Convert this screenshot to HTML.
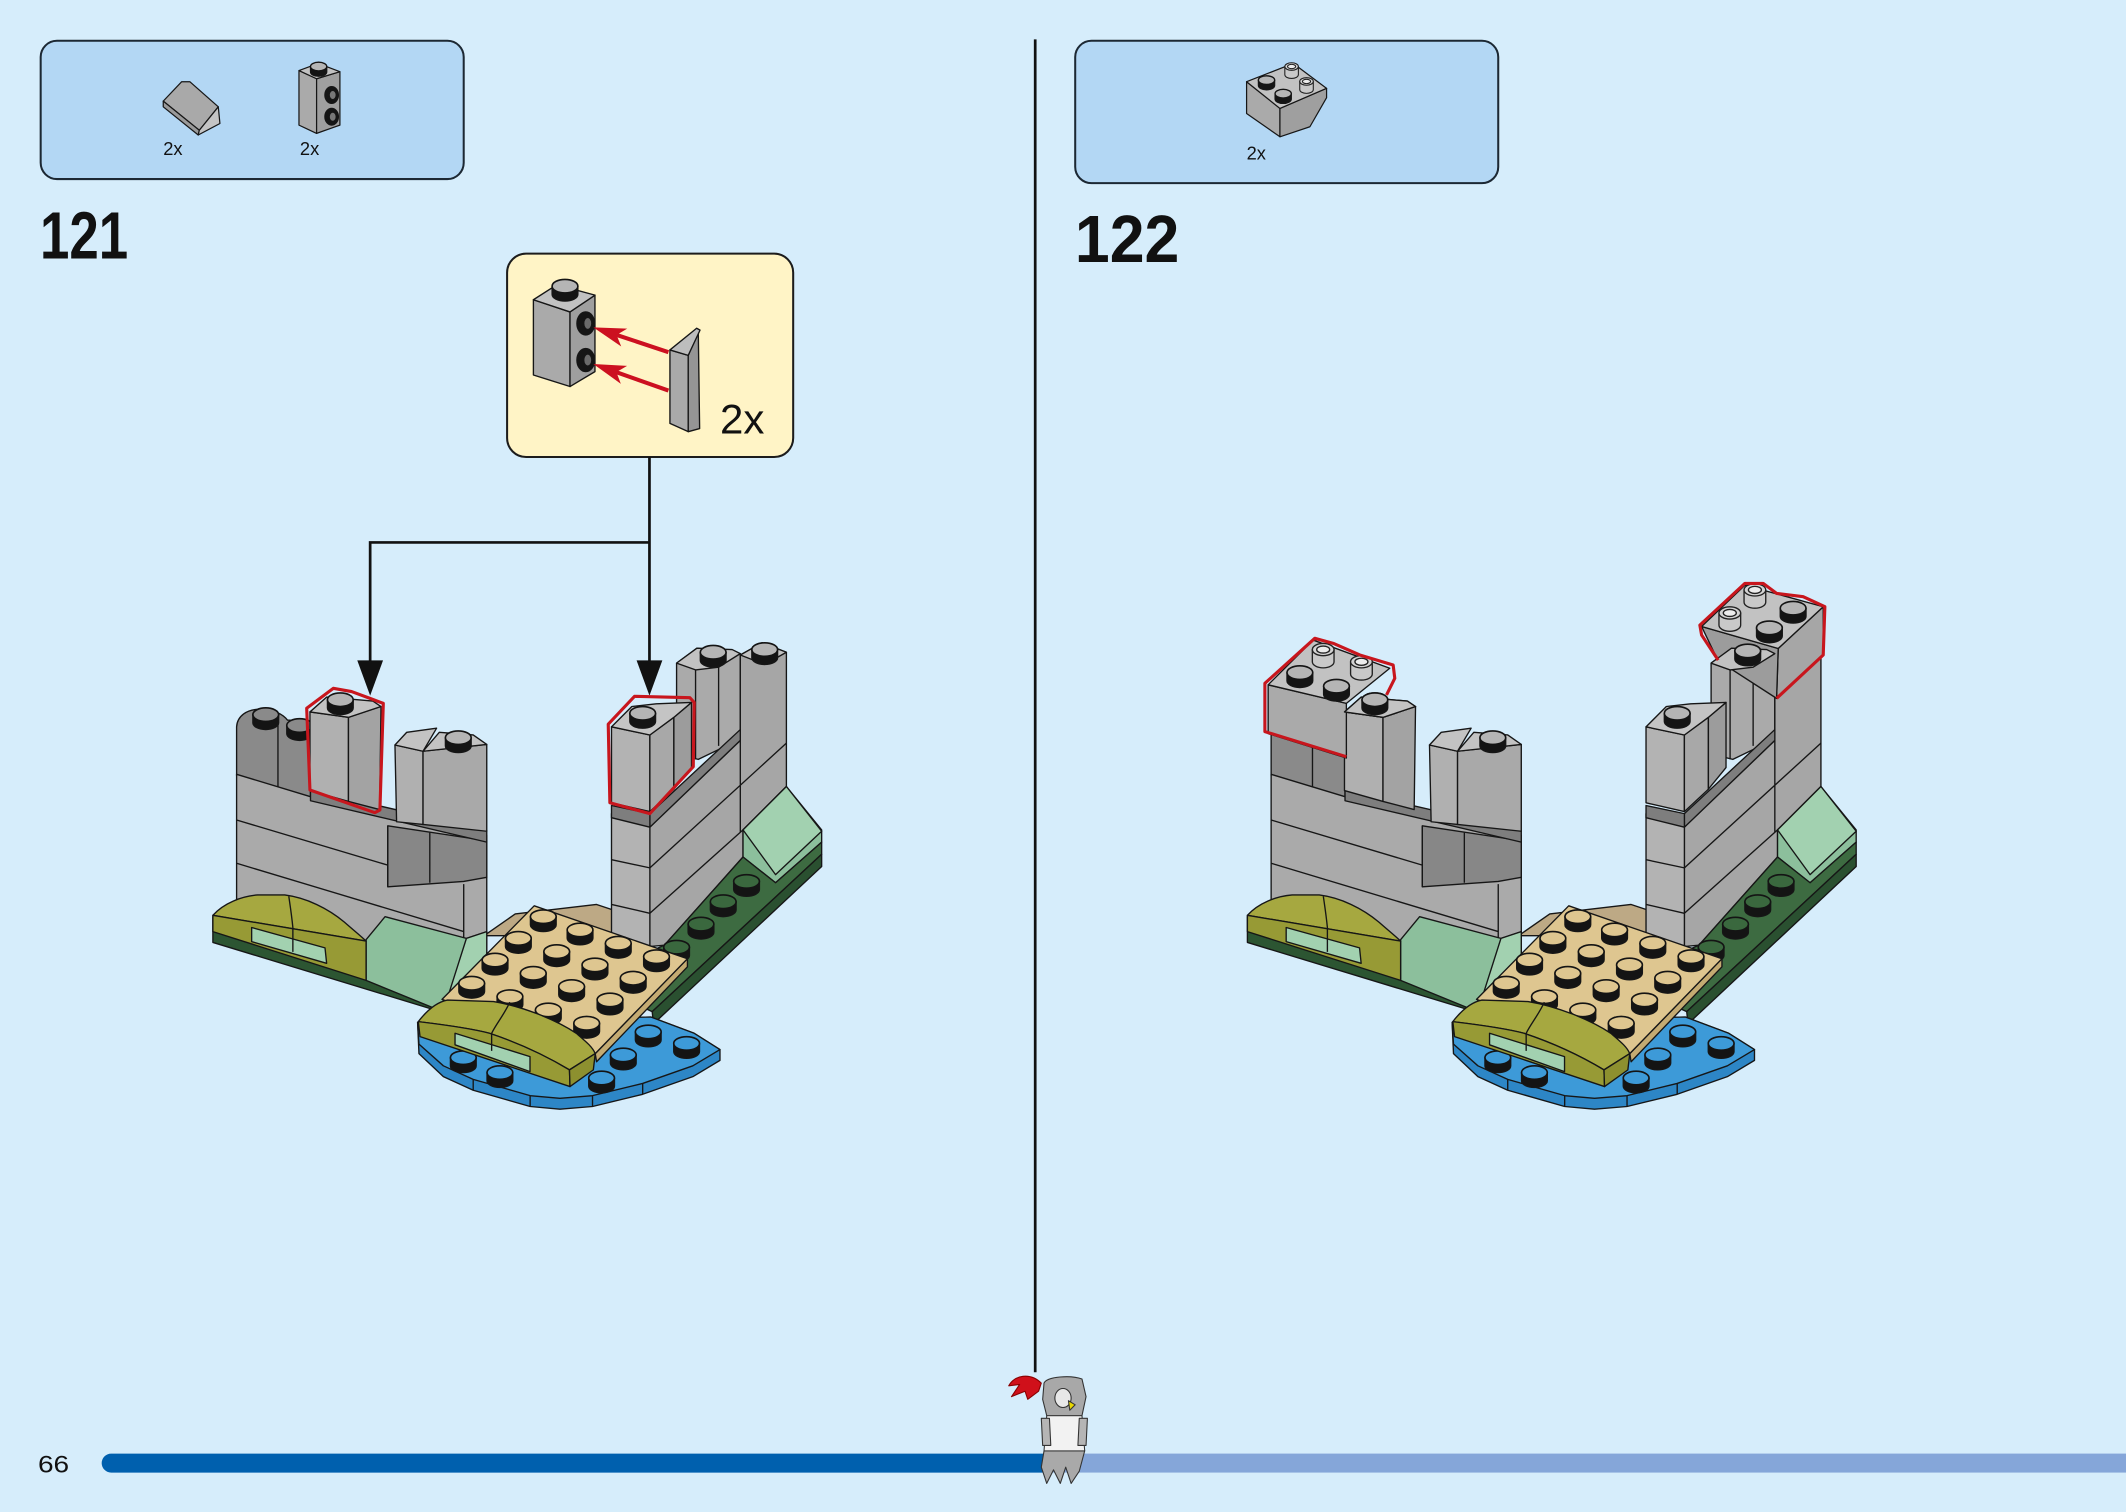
<!DOCTYPE html>
<html><head><meta charset="utf-8">
<style>
html,body{margin:0;padding:0;background:#d6edfb;}
svg{display:block;}
</style></head><body>
<svg width="2126" height="1512" viewBox="0 0 1568 1115" xmlns="http://www.w3.org/2000/svg" font-family="'Liberation Sans', sans-serif">
<defs>
 <g id="st"><path d="M-9.5,0 L-9.5,6 A9.5,5 0 0 0 9.5,6 L9.5,0 Z" fill="#141414"/><ellipse rx="9.5" ry="5" stroke="#141414" stroke-width="1.2"/></g>
 <g id="ss"><path d="M-6,0 L-6,4 A6,3.2 0 0 0 6,4 L6,0 Z" fill="#141414"/><ellipse rx="6" ry="3.2" stroke="#141414" stroke-width="1"/></g>
 <g id="hs"><path d="M-8,0 L-8,9 A8,4.5 0 0 0 8,9 L8,0 Z" fill="#c9c9c9" stroke="#222" stroke-width="1"/><ellipse rx="8" ry="4.5" fill="#d2d2d2" stroke="#222" stroke-width="1"/><ellipse rx="4.8" ry="2.6" fill="#ececec" stroke="#222" stroke-width="1"/></g>
 <g id="hss"><path d="M-5,0 L-5,6 A5,2.8 0 0 0 5,6 L5,0 Z" fill="#c9c9c9" stroke="#222" stroke-width="0.8"/><ellipse rx="5" ry="2.8" fill="#d2d2d2" stroke="#222" stroke-width="0.8"/><ellipse rx="3" ry="1.6" fill="#ececec" stroke="#222" stroke-width="0.8"/></g>

 <g id="mdl" stroke="#161616" stroke-width="1" stroke-linejoin="round">
  <path d="M357,690 L380,674 L440,667 L455,672 L455,690 Z" fill="#bda985"/>
  <!-- right tower -->
  <path d="M499,489 L514,478 L546,482 L546,545 L515,560 L499,556 Z" fill="#aaaaaa"/>
  <path d="M499,489 L514,478 L540,479 L546,482 L530,492 L513,494 Z" fill="#c2c2c2"/>
  <path d="M513,494 L513,560 M530,492 L530,550" fill="none"/>
  <use href="#st" x="526" y="481" fill="#b5b5b5"/>
  <path d="M479.3,610 L546,546 L546,483 L562,474 L580,481 L580,580 L548,612 L548,632 L490,697 L479.3,698 Z" fill="#a6a6a6"/>
  <path d="M546,483 L562,474 L580,481 L564,490 Z" fill="#c2c2c2"/>
  <use href="#st" x="564" y="479" fill="#b5b5b5"/>
  <path d="M479.3,640 L580,548 M479.3,673.5 L548,612 M546,546 L546,614" fill="none"/>
  <path d="M479.3,600 L546,538 L546,546 L479.3,610 Z" fill="#7e7e7e"/>
  <path d="M451,600 L479.3,606 L479.3,698 L451,697 Z" fill="#b3b3b3"/>
  <path d="M451,594 L479.3,600 L479.3,610 L451,603 Z" fill="#7e7e7e"/>
  <path d="M451,634 L479.3,640 M451,667 L479.3,673.5" fill="none"/>
  <path d="M451,536 L479.3,542 L479.3,598.5 L451,592 Z" fill="#b3b3b3"/>
  <path d="M479.3,542 L497,529 L497,582 L479.3,598.5 Z" fill="#a8a8a8"/>
  <path d="M497,529 L510,518 L510,566 L497,582 Z" fill="#9c9c9c"/>
  <path d="M451,536 L466,521 L484,519 L510,518 L497,529 L479.3,542 Z" fill="#c4c4c4"/>
  <use href="#st" x="474" y="526" fill="#b5b5b5"/>
  <!-- right sand green slope -->
  <path d="M548,612 L580,580 L606,612 L606,621 L572,651 L548,632 Z" fill="#8cbf9c"/>
  <path d="M548,612 L580,580 L606,613 L572,645 Z" fill="#a2d1b0"/>
  <!-- right dark green plate -->
  <path d="M470,706 L490,697 L548,632 L572,651 L606,621 L606,630 L481,746 L470,741 Z" fill="#3d6b41"/>
  <path d="M606,630 L606,639 L482,755 L481,746 Z" fill="#2a5030"/>
  <use href="#st" x="550.6" y="650" fill="#3a683e"/>
  <use href="#st" x="533.4" y="665" fill="#3a683e"/>
  <use href="#st" x="517" y="681.5" fill="#3a683e"/>
  <use href="#st" x="499" y="698.5" fill="#3a683e"/>
  <!-- left wall -->
  <path d="M174.5,536 C175,528 182,523 192,523 C202,523 209,527 212,531 C220,531 227,535 229,540 L229,589 L174.5,572 Z" fill="#8a8a8a"/>
  <path d="M205,533 L205,582" fill="none"/>
  <use href="#st" x="196" y="527" fill="#8a8a8a"/>
  <use href="#st" x="221" y="535" fill="#8a8a8a"/>
  <path d="M174.5,571 L229,587.5 L359,616 L359,697 L174.5,692 Z" fill="#aaaaaa"/>
  <path d="M286,609 L359,620 L359,647 L342,650 L286,654 Z" fill="#878787"/>
  <path d="M174.5,604.7 L286,638 M174.5,636.6 L342,687 M286,609 L286,654 M342,652 L342,697 M317,614 L317,651" fill="none"/>
  <path d="M229,582.6 L359,612.5 L359,621 L229,590.5 Z" fill="#7e7e7e"/>
  <path d="M228.6,525 L257,529 L257,591 L228.6,583 Z" fill="#b0b0b0"/>
  <path d="M257,529 L281,521 L280,597 L257,591 Z" fill="#a3a3a3"/>
  <path d="M228.6,525 L241,514 L275,517 L281,521 L257,529 Z" fill="#c3c3c3"/>
  <use href="#st" x="251" y="516" fill="#b5b5b5"/>
  <path d="M291.3,549.4 L312,554 L312,608 L292.5,606 Z" fill="#b0b0b0"/>
  <path d="M291.3,549.4 L300,540 L322,537 L312,554 Z" fill="#c3c3c3"/>
  <path d="M312,554 L359,549 L359,613 L312,608 Z" fill="#a9a9a9"/>
  <path d="M312,554 L324,540 L349,542 L359,549 Z" fill="#c3c3c3"/>
  <use href="#st" x="338" y="544" fill="#b5b5b5"/>
  <!-- left base -->
  <path d="M157,676 L330,724 L333,736 L318,744 L157,695 Z" fill="#2c5532"/>
  <path d="M270,693 L284,676 L344,692 L359,687 L359,706 L325,740 L319,743 L270,723 Z" fill="#8cbf9c"/>
  <path d="M344,692 L359,687 L359,706 L330,736 Z" fill="#a2d1b0"/>
  <path d="M157,675 C165,666 178,661 190,660 L210,660 C226,662 242,670 254,680 C262,687 267,691 270,694 Z" fill="#a6a840"/>
  <path d="M157,675 L270,694 L270,723 L157,687 Z" fill="#979a35"/>
  <path d="M185.6,684 L239.7,699 L240.9,710.4 L185.6,694.4 Z" fill="#a2d1b0"/>
  <path d="M213,661 C214,668 215,674 216,684 L216,702" fill="none"/>
  <!-- blue -->
  <path d="M308,754 L480,750 L512,762 L531,774 L531,782 L511,794 L474,807 L437,816 L413,818 L391,816 L349,804 L327,794 L309,777 Z" fill="#2d86c6"/>
  <path d="M308,754 L480,750 L512,762 L531,774 L511,786 L474,799 L437,808 L413,810 L391,808 L349,796 L327,786 L309,770 Z" fill="#3d9ad8"/>
  <path d="M349,796 L349,804 M437,808 L437,816 M474,799 L474,807 M391,808 L391,816" fill="none"/>
  <use href="#st" x="341.7" y="780" fill="#3d9ad8"/>
  <use href="#st" x="368.7" y="791" fill="#3d9ad8"/>
  <use href="#st" x="443.7" y="795" fill="#3d9ad8"/>
  <use href="#st" x="459.7" y="778" fill="#3d9ad8"/>
  <use href="#st" x="478.1" y="761" fill="#3d9ad8"/>
  <use href="#st" x="506.4" y="769.5" fill="#3d9ad8"/>
  <!-- tan plate -->
  <path d="M507,707 L507,713 L440,783 L439,777 Z" fill="#c4ab72"/>
  <path d="M394,668 L507,707 L439,777 L326,737 Z" fill="#dec690"/>
  <g fill="#dec690">
   <use href="#st" x="400.7" y="676"/><use href="#st" x="427.8" y="685.8"/><use href="#st" x="456" y="695.6"/><use href="#st" x="484.2" y="705.5"/>
   <use href="#st" x="382.3" y="692"/><use href="#st" x="410.6" y="701.8"/><use href="#st" x="438.8" y="711.6"/><use href="#st" x="467" y="721.4"/>
   <use href="#st" x="365.1" y="708"/><use href="#st" x="393.3" y="717.8"/><use href="#st" x="421.6" y="727.6"/><use href="#st" x="449.9" y="737.4"/>
   <use href="#st" x="347.9" y="725.1"/><use href="#st" x="376.1" y="735"/><use href="#st" x="404.4" y="744.8"/><use href="#st" x="432.7" y="754.6"/>
  </g>
  <!-- olive front -->
  <path d="M308.5,753.4 C315,745 322,739 330,737.5 L364,738.6 C385,742 410,752 425,762 C432,768 437,772 439,777 L420,789 C405,780 385,770 361,762 C350,759 330,756 308.5,753.4 Z" fill="#a6a840"/>
  <path d="M308.5,753.4 C330,756 350,759 361,762 C385,770 405,780 420,789 L420.4,801.3 L309.8,764.5 Z" fill="#979a35"/>
  <path d="M420,789 L439,777 L437.6,789 L420.4,801.3 Z" fill="#8d902f"/>
  <path d="M335.6,762 L390.9,779.2 L390.9,790.3 L335.6,770.5 Z" fill="#a2d1b0"/>
  <path d="M376,739 C372,748 366,755 362.6,762 L362.6,775" fill="none"/>
 </g>
</defs>

<!-- STEP 121 -->
<rect x="30" y="30" width="312" height="102" rx="12" fill="#b3d7f4" stroke="#1c2833" stroke-width="1.5"/>
<g stroke="#161616" stroke-width="0.9" stroke-linejoin="round">
 <path d="M120.4,74.5 L134,60.2 L140,60.2 L161,78.7 L147,96 Z" fill="#a9a9a9"/>
 <path d="M120.4,74.5 L147,96 L146.2,99.5 L120.4,78.7 Z" fill="#9a9a9a"/>
 <path d="M147,96 L161,78.7 L162.2,91 L146.2,99.5 Z" fill="#c4c4c4"/>
 <path d="M220.5,52 L233.5,58 L233.5,98.3 L220.5,92.2 Z" fill="#aaaaaa"/>
 <path d="M233.5,58 L250.7,52.8 L250.7,92.2 L233.5,98.3 Z" fill="#9f9f9f"/>
 <path d="M220.5,52 L234.7,46.7 L250.7,52.8 L233.5,58 Z" fill="#c2c2c2"/>
 <use href="#ss" x="235" y="49" fill="#b5b5b5"/>
 <ellipse cx="244.6" cy="70" rx="5" ry="6.2" fill="#151515"/>
 <ellipse cx="245.4" cy="70" rx="2.6" ry="3.4" fill="#777"/>
 <ellipse cx="244.6" cy="86" rx="5" ry="6.2" fill="#151515"/>
 <ellipse cx="245.4" cy="86" rx="2.6" ry="3.4" fill="#777"/>
</g>
<text x="120.4" y="114.3" font-size="13.5" fill="#111">2x</text>
<text x="221.2" y="114.3" font-size="13.5" fill="#111">2x</text>

<text x="29.5" y="190.5" font-size="49" font-weight="bold" fill="#111" textLength="65" lengthAdjust="spacingAndGlyphs">121</text>

<!-- callout -->
<rect x="374" y="187" width="211" height="150" rx="14" fill="#fff4c6" stroke="#1c1c1c" stroke-width="1.5"/>
<g stroke="#161616" stroke-width="1" stroke-linejoin="round">
 <path d="M393.4,221 L420.4,230 L420.4,285 L393.4,276.5 Z" fill="#aaaaaa"/>
 <path d="M420.4,230 L438.8,217.6 L438.8,274 L420.4,285 Z" fill="#9f9f9f"/>
 <path d="M393.4,221 L410.6,210 L438.8,217.6 L420.4,230 Z" fill="#c2c2c2"/>
 <use href="#st" x="416.7" y="211" fill="#b5b5b5"/>
 <ellipse cx="432" cy="238.5" rx="6.5" ry="8.5" fill="#151515"/>
 <ellipse cx="433.5" cy="238.5" rx="3" ry="4.5" fill="#6a6a6a"/>
 <ellipse cx="432" cy="265.5" rx="6.5" ry="8.5" fill="#151515"/>
 <ellipse cx="433.5" cy="265.5" rx="3" ry="4.5" fill="#6a6a6a"/>
 <path d="M494.1,258 L507.6,262 L507.6,318.3 L494.1,312.2 Z" fill="#aaaaaa"/>
 <path d="M507.6,262 L515,243.5 L516,316 L507.6,318.3 Z" fill="#959595"/>
 <path d="M494.1,258 L513.8,242 L516.3,243.4 L507.6,262 Z" fill="#bdbdbd"/>
</g>
<g fill="#cc1020">
 <path d="M493,259.7 L452,246" stroke="#cc1020" stroke-width="3"/>
 <path d="M437.6,241.4 L462.6,242.3 L454.7,247 L458.2,255.5 Z"/>
 <path d="M493,288 L452,273.5" stroke="#cc1020" stroke-width="3"/>
 <path d="M437.6,268.4 L462.5,269.8 L454.6,274.4 L457.9,283 Z"/>
</g>
<text x="531" y="319.6" font-size="31" fill="#111">2x</text>

<!-- connectors -->
<path d="M479,337 V400 H273 V490 M479,400 V490" stroke="#111" stroke-width="2" fill="none"/>
<path d="M263.5,487 L282.5,487 L273,513 Z" fill="#111"/>
<path d="M469.5,487 L488.5,487 L479,513 Z" fill="#111"/>

<!-- model 121 -->
<use href="#mdl"/>
<g stroke="#c8161d" stroke-width="2.3" fill="none" stroke-linejoin="round">
 <path d="M226.2,522.3 L245.8,507.6 L259.3,510 L272.9,515 L282.7,518.7 L280.2,597.3 L276.5,599.3 L228.6,582.6 Z"/>
 <path d="M448.6,534 L468,513.5 L508.8,514.5 L512,518 L511.3,565.4 L479.3,600 L449.8,592 Z"/>
</g>

<!-- divider -->
<line x1="763.5" y1="29" x2="763.5" y2="1012" stroke="#111" stroke-width="2"/>

<!-- STEP 122 -->
<rect x="793" y="30" width="312" height="105" rx="12" fill="#b3d7f4" stroke="#1c2833" stroke-width="1.5"/>
<g stroke="#161616" stroke-width="0.9" stroke-linejoin="round">
 <path d="M919.4,60.2 L944,79.9 L944,100.8 L919.4,83.6 Z" fill="#aaaaaa"/>
 <path d="M944,79.9 L978.4,65.1 L978.4,72 L966.1,93.4 L944,100.8 Z" fill="#9f9f9f"/>
 <path d="M919.4,60.2 L953.8,46.7 L978.4,65.1 L944,79.9 Z" fill="#c2c2c2"/>
 <use href="#ss" x="934.1" y="59" fill="#b5b5b5"/>
 <use href="#ss" x="946.4" y="69" fill="#b5b5b5"/>
 <use href="#hss" x="952.6" y="49"/>
 <use href="#hss" x="963.6" y="60"/>
</g>
<text x="919.4" y="117.5" font-size="13.5" fill="#111">2x</text>

<text x="792.8" y="193" font-size="49" font-weight="bold" fill="#111" textLength="77" lengthAdjust="spacingAndGlyphs">122</text>

<use href="#mdl" transform="translate(763,0)"/>
<g stroke="#161616" stroke-width="1" stroke-linejoin="round">
 <path d="M935.3,505 L993,518.7 L993,559 L935.3,541 Z" fill="#aaaaaa"/>
 <path d="M935.3,505 L968.5,472 L1025,492.8 L993,518.7 Z" fill="#c2c2c2"/>
 <use href="#hs" x="975.9" y="479"/>
 <use href="#hs" x="1004.1" y="488"/>
 <use href="#st" x="958.7" y="496" fill="#b5b5b5"/>
 <use href="#st" x="985.7" y="506" fill="#b5b5b5"/>
 <path d="M991.6,525 L1004,514 L1038,517 L1044,521 L1020,529 Z" fill="#c3c3c3"/>
 <use href="#st" x="1014" y="516" fill="#b5b5b5"/>

 <path d="M1311.5,478.2 L1344.7,447.4 L1344.7,483 L1310.3,515 Z" fill="#a6a6a6"/>
 <path d="M1255,462 L1311.5,478.2 L1310.3,515 L1267,487 Z" fill="#9c9c9c"/>
 <path d="M1255,462 L1287,431.5 L1344.7,447.4 L1311.5,478.2 Z" fill="#c2c2c2"/>
 <use href="#hs" x="1275.8" y="452"/>
 <use href="#hs" x="1294.3" y="435"/>
 <use href="#st" x="1305" y="463" fill="#b5b5b5"/>
 <use href="#st" x="1322.5" y="448.5" fill="#b5b5b5"/>
 <path d="M1262,489 L1277,478 L1303,479 L1309,482 L1293,492 L1276,494 Z" fill="#c2c2c2"/>
 <use href="#st" x="1289" y="480" fill="#b5b5b5"/>
</g>
<g stroke="#c8161d" stroke-width="2.3" fill="none" stroke-linejoin="round">
 <path d="M993,558 L932.9,539.5 L932.9,503.9 L969.7,470.7 L983.3,474.4 L1002.9,483 L1027.5,490.4 L1028.7,500.2 L1022.6,512.5"/>
 <path d="M1267.2,486.8 L1255,468.3 L1253.7,461 L1286.9,430.2 L1300.4,430.2 L1310.3,437.6 L1329.9,440 L1345.9,447.4 L1344.7,483 L1310.3,515"/>
</g>

<!-- bottom bar -->
<path d="M82,1072 H775 V1086 H82 A7,7 0 0 1 82,1072 Z" fill="#0060ae"/>
<rect x="775" y="1072" width="793" height="14" fill="#85a6d9"/>
<text x="28" y="1086" font-size="18" fill="#111" textLength="23" lengthAdjust="spacingAndGlyphs">66</text>

<!-- knight -->
<g stroke="#333" stroke-width="0.8" stroke-linejoin="round">
 <path d="M770,1070 L768,1082 L772,1094 L777,1084 L782,1094 L786,1082 L790,1094 L796,1085 L800,1070 Z" fill="#a9a9a9"/>
 <path d="M772,1044 L798,1044 L800,1070 L770,1070 Z" fill="#f2f2f2"/>
 <path d="M768,1046 L774,1046 L775,1066 L769,1066 Z" fill="#b5b5b5"/>
 <path d="M796,1046 L802,1046 L801,1066 L795,1066 Z" fill="#b5b5b5"/>
 <path d="M770,1020 C772,1015 790,1014 798,1017 L801,1030 L798,1044 L772,1044 L769,1032 Z" fill="#a8a8a8"/>
 <ellipse cx="784" cy="1031" rx="6" ry="7" fill="#e8e8e8"/>
 <path d="M788,1033 L793,1036 L789,1040 Z" fill="#e8d800"/>
 <path d="M768,1020 C760,1012 748,1014 744,1022 L752,1021 L746,1030 L756,1026 L758,1032 L766,1026 Z" fill="#d0101a" stroke="#8a0000"/>
</g>
</svg>
</body></html>
